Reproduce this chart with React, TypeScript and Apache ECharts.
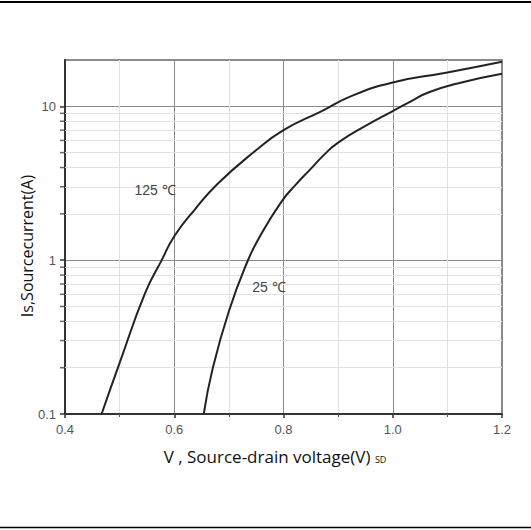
import React, { useEffect, useRef } from "react";
import * as echarts from "echarts";

// Source-drain diode forward characteristic, two junction temperatures
const vsd125: number[] = [0.467, 0.5, 0.547, 0.577, 0.6, 0.638, 0.68, 0.748, 0.8, 0.87, 0.925, 1.0, 1.1, 1.2];
const is125: number[] = [0.1, 0.215, 0.614, 1.0, 1.43, 2.14, 3.15, 5.12, 7.0, 9.31, 11.7, 14.3, 16.6, 19.5];

const vsd25: number[] = [0.654, 0.67, 0.7, 0.734, 0.757, 0.797, 0.823, 0.849, 0.875, 0.9, 0.95, 1.0, 1.034, 1.065, 1.126, 1.2];
const is25: number[] = [0.1, 0.195, 0.465, 0.98, 1.43, 2.42, 3.11, 3.89, 4.87, 5.81, 7.45, 9.31, 10.8, 12.3, 14.3, 16.3];

const yTickLabels: number[] = [0.1, 1, 10];
const yMinorValues: number[] = [0.2, 0.3, 0.4, 0.5, 0.6, 0.7, 0.8, 0.9, 2, 3, 4, 5, 6, 7, 8, 9];

const curveLabels = ["125 \u2103", "25 \u2103"];
const xTitle = "V , Source-drain voltage(V) {sub|SD}";
const yTitle = "Is,Sourcecurrent(A)";

const X_MIN = 0.4;

const pairs = (xs: number[], ys: number[]) => xs.map((x, i) => [x, ys[i]]);

export default function App() {
  const ref = useRef<HTMLDivElement>(null);

  useEffect(() => {
    if (!ref.current) return;
    const chart = echarts.init(ref.current, undefined, { renderer: "svg" });
    const lineStyle = { color: "#222", width: 2 };
    const labelStyle = {
      fontFamily: "Liberation Sans",
      fontSize: 14,
      fill: "#444",
      align: "center",
      verticalAlign: "middle",
    };
    chart.setOption({
      animation: false,
      backgroundColor: "#fff",
      grid: {
        left: 65,
        right: 29,
        top: 60,
        bottom: 116,
        show: true,
        borderColor: "#666",
        borderWidth: 1.5,
      },
      xAxis: {
        type: "value",
        min: X_MIN,
        max: 1.2,
        interval: 0.2,
        axisLine: { show: true, lineStyle: { color: "#333", width: 2 } },
        axisTick: { show: true, length: 4, lineStyle: { color: "#333", width: 1.5 } },
        minorTick: { show: true, splitNumber: 2, length: 3, lineStyle: { color: "#555" } },
        axisLabel: {
          margin: 9,
          fontFamily: "Liberation Sans",
          fontSize: 13,
          color: "#555",
          formatter: (v: number) => v.toFixed(1),
        },
        splitLine: { show: true, lineStyle: { color: "#8a8a8a", width: 1 } },
        minorSplitLine: { show: true, lineStyle: { color: "#e2e2e2", width: 1 } },
      },
      yAxis: {
        type: "log",
        logBase: 10,
        min: 0.1,
        max: 20,
        axisLine: { show: true, lineStyle: { color: "#333", width: 2 } },
        axisTick: { show: true, length: 5, lineStyle: { color: "#333", width: 1.5 } },
        minorTick: { show: false },
        axisLabel: {
          margin: 9,
          fontFamily: "Liberation Sans",
          fontSize: 13,
          color: "#555",
          showMaxLabel: false,
          formatter: (v: number) => {
            const hit = yTickLabels.find((t) => Math.abs(t - v) < 1e-9);
            return hit === undefined ? "" : String(hit);
          },
        },
        splitLine: { show: true, lineStyle: { color: "#8a8a8a", width: 1 } },
        minorSplitLine: { show: false },
      },
      series: [
        {
          // minor log gridlines and the small tick dashes on the current axis
          type: "scatter",
          data: yMinorValues.map((v) => [X_MIN, v]),
          symbol: "rect",
          symbolSize: [4, 1.5],
          symbolOffset: [-3, 0],
          itemStyle: { color: "#444" },
          clip: false,
          silent: true,
          z: 6,
          markLine: {
            silent: true,
            symbol: "none",
            label: { show: false },
            lineStyle: { color: "#e2e2e2", width: 1, type: "solid" },
            data: yMinorValues.map((v) => ({ yAxis: v })),
          },
        },
        {
          type: "line",
          data: pairs(vsd125, is125),
          smooth: 0.5,
          showSymbol: false,
          lineStyle,
          z: 5,
        },
        {
          type: "line",
          data: pairs(vsd25, is25),
          smooth: 0.5,
          showSymbol: false,
          lineStyle,
          z: 5,
        },
      ],
      graphic: [
        { type: "line", shape: { x1: 0, y1: 2, x2: 531, y2: 2 }, style: { stroke: "#000", lineWidth: 2 } },
        { type: "line", shape: { x1: 0, y1: 527.5, x2: 531, y2: 527.5 }, style: { stroke: "#000", lineWidth: 1.5 } },
        { type: "text", x: 155, y: 190, style: { ...labelStyle, text: curveLabels[0] }, z: 10 },
        { type: "text", x: 269, y: 287, style: { ...labelStyle, text: curveLabels[1] }, z: 10 },
        {
          type: "text",
          x: 275,
          y: 456,
          style: {
            text: xTitle,
            fontFamily: "Open Sans",
            fontSize: 17,
            fill: "#111",
            align: "center",
            verticalAlign: "middle",
            rich: { sub: { fontSize: 9, fontFamily: "Open Sans", fill: "#111", padding: [7, 0, 0, 0] } },
          },
        },
        {
          type: "text",
          x: 27,
          y: 246,
          rotation: Math.PI / 2,
          style: {
            text: yTitle,
            fontFamily: "Open Sans",
            fontSize: 16,
            fill: "#111",
            align: "center",
            verticalAlign: "middle",
          },
        },
      ],
    });
    return () => chart.dispose();
  }, []);

  return (
    <div
      ref={ref}
      style={{ position: "fixed", left: 0, top: 0, width: 531, height: 530, background: "#fff" }}
    />
  );
}
